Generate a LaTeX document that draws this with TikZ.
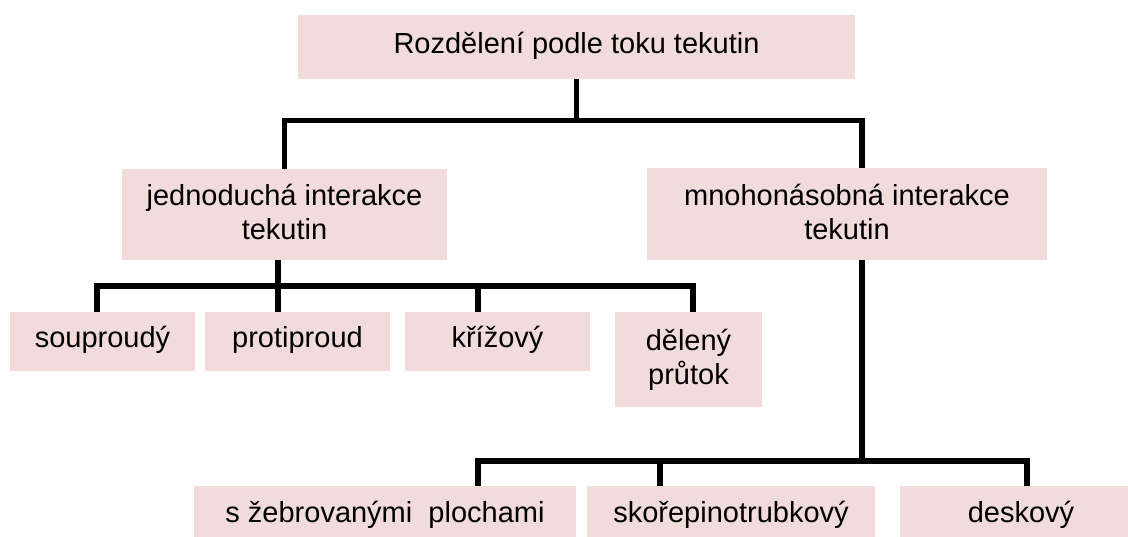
\documentclass[tikz,border=0pt]{standalone}
\usepackage{fontspec}
\setmainfont{Liberation Sans}
\definecolor{boxpink}{HTML}{F2DCDB}
\begin{document}
\begin{tikzpicture}[x=1pt,y=-1pt,
  box/.style={fill=boxpink, draw=none, inner sep=0pt, align=center, font=\fontsize{29}{34}\selectfont},
  oneline/.style={text height=18pt, text depth=6pt},
  conn/.style={line width=5.3pt, line join=miter}]
\clip (0,0) rectangle (1128,536);
% boxes
\node[box,oneline,minimum width=557pt,minimum height=64pt] (top) at (576.5,47) {Rozdělení podle toku tekutin};
\node[box,minimum width=325pt,minimum height=91pt] (jed) at (284.5,214.5) {jednoduchá interakce\\tekutin\rule[-5pt]{0pt}{5pt}};
\node[box,minimum width=400pt,minimum height=92pt] (mno) at (847,214) {mnohonásobná interakce\\tekutin\rule[-5pt]{0pt}{5pt}};
\node[box,oneline,minimum width=185pt,minimum height=59pt] (sou) at (102.5,341.5) {souproudý};
\node[box,oneline,minimum width=185pt,minimum height=59pt] (pro) at (297.5,341.5) {protiproud};
\node[box,oneline,minimum width=185pt,minimum height=59pt] (kri) at (497.5,341.5) {křížový};
\node[box,minimum width=147pt,minimum height=95pt] (del) at (688.5,359.5) {dělený\\průtok};
\node[box,oneline,minimum width=382pt,minimum height=60pt] (seb) at (385,516) {s žebrovanými~~plochami};
\node[box,oneline,minimum width=288pt,minimum height=60pt] (sko) at (731,516) {skořepinotrubkový};
\node[box,oneline,minimum width=242pt,minimum height=60pt] (des) at (1021,516) {deskový};
% connectors, level 1
\coordinate (b1) at (576.5,120.5);
\draw[conn] (top.south) -- (b1);
\draw[conn] (jed.north) |- (b1) -| ([xshift=15pt]mno.north);
% level 2 left
\coordinate (b2) at (278,286);
\coordinate (dk) at ([xshift=-19.5pt]kri.north);
\draw[conn] ([xshift=-6.5pt]jed.south) -- (b2);
\draw[conn] ([xshift=-5.5pt]sou.north) |- (b2) -| ([xshift=4.5pt]del.north);
\draw[conn] ([xshift=-19.5pt]pro.north) -- (b2);
\draw[conn] (dk) -- (dk |- b2);
% level 2 right
\coordinate (b3) at (862,461);
\coordinate (ds) at ([xshift=-71pt]sko.north);
\draw[conn] ([xshift=15pt]mno.south) -- (b3);
\draw[conn] ([xshift=93pt]seb.north) |- (b3) -| ([xshift=6pt]des.north);
\draw[conn] (ds) -- (ds |- b3);
\end{tikzpicture}
\end{document}
